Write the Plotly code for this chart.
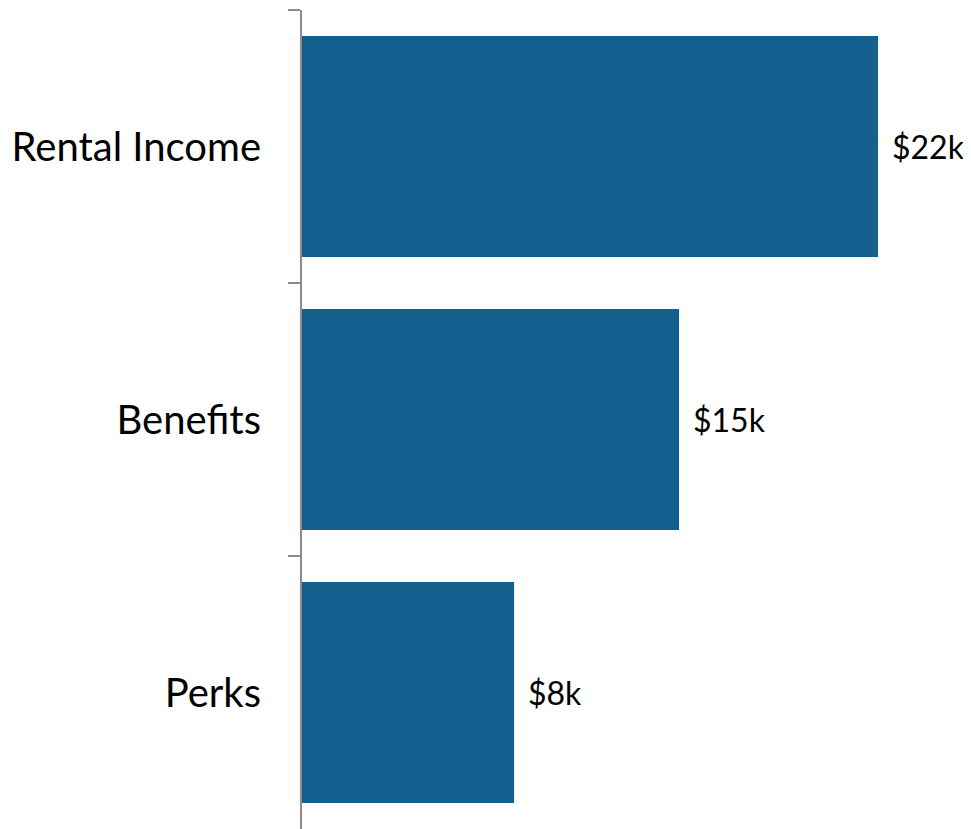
import plotly.graph_objects as go

categories = ["Rental Income", "Benefits", "Perks"]
values = [22.0, 14.4, 8.1]
value_labels = ["$22k", "$15k", "$8k"]

bar_color = "#14608F"
axis_color = "#8C8C8C"
font_family = "Lato, Carlito, Calibri, sans-serif"

fig = go.Figure()
fig.add_trace(go.Bar(
    x=values,
    y=categories,
    orientation="h",
    marker=dict(color=bar_color, line=dict(width=0)),
    hoverinfo="skip",
))

for cat, v, lab in zip(categories, values, value_labels):
    fig.add_annotation(
        x=v, y=cat, text=lab, showarrow=False,
        xanchor="left", yanchor="middle", xshift=12,
        font=dict(family=font_family, size=32, color="#000000"),
    )

fig.update_layout(
    width=971, height=821,
    margin=dict(l=294, r=8, t=2, b=0),
    paper_bgcolor="white", plot_bgcolor="white",
    bargap=0.19,
    showlegend=False,
    font=dict(family=font_family, size=40, color="#000000"),
)
fig.update_xaxes(
    range=[0, 25.55], visible=False, showgrid=False, zeroline=False,
)
fig.update_yaxes(
    categoryorder="array", categoryarray=categories, autorange="reversed",
    showline=True, linecolor=axis_color, linewidth=2,
    ticks="outside", tickson="boundaries", ticklen=12, tickwidth=2,
    tickcolor=axis_color, ticklabelstandoff=31,
    showgrid=False, zeroline=False,
    tickfont=dict(family=font_family, size=40, color="#000000"),
)

fig.write_html("out.html")
